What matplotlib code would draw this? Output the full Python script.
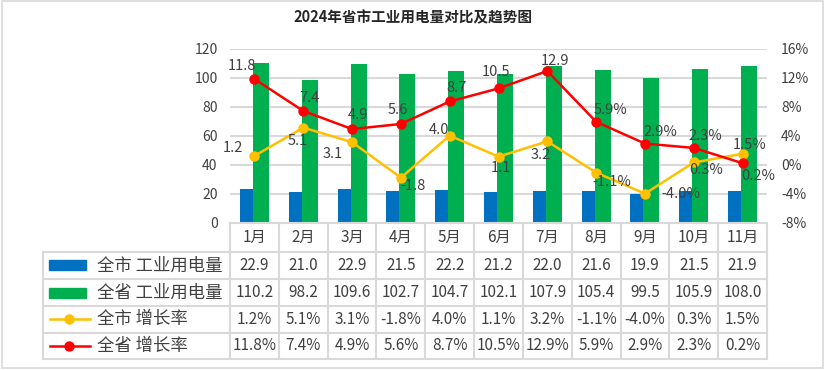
import matplotlib
matplotlib.use("Agg")
import matplotlib.pyplot as plt
from matplotlib.transforms import blended_transform_factory
from matplotlib.lines import Line2D
from matplotlib.patches import Rectangle
import numpy as np

plt.rcParams['font.family'] = ['Noto Sans CJK SC', 'DejaVu Sans']

# ---- data ----
months = ['1月', '2月', '3月', '4月', '5月', '6月', '7月', '8月', '9月', '10月', '11月']
city_power = [22.9, 21.0, 22.9, 21.5, 22.2, 21.2, 22.0, 21.6, 19.9, 21.5, 21.9]
prov_power = [110.2, 98.2, 109.6, 102.7, 104.7, 102.1, 107.9, 105.4, 99.5, 105.9, 108.0]
city_growth = [1.2, 5.1, 3.1, -1.8, 4.0, 1.1, 3.2, -1.1, -4.0, 0.3, 1.5]
prov_growth = [11.8, 7.4, 4.9, 5.6, 8.7, 10.5, 12.9, 5.9, 2.9, 2.3, 0.2]
series_names = ['全市 工业用电量', '全省 工业用电量', '全市 增长率', '全省 增长率']
title = '2024年省市工业用电量对比及趋势图'

# chart-label texts (as shown on the chart: first 7 months without %)
city_lbl = [f'{v:.1f}' if i < 7 else f'{v:.1f}%' for i, v in enumerate(city_growth)]
prov_lbl = [f'{v:.1f}' if i < 7 else f'{v:.1f}%' for i, v in enumerate(prov_growth)]

# ---- style ----
BLUE = '#0070C0'
GREEN = '#00B050'
YELLOW = '#FFC000'
RED = '#FF0000'
TXT = '#404040'
GRID = '#D9D9D9'

W, H = 826, 370
fig = plt.figure(figsize=(W / 100, H / 100), dpi=100)

def fx(px):
    return px / W

def fy(py):
    return 1 - py / H

L, R, T, B = 230, 767, 48.5, 222.7
ax = fig.add_axes([fx(L), fy(B), fx(R) - fx(L), fy(T) - fy(B)])
n = len(months)
x = np.arange(n)
colw = (R - L) / n

# bars
blue_l, split, green_r = -14.5 / colw, -1.5 / colw, 14.5 / colw
ax.bar(x + blue_l, city_power, width=split - blue_l, align='edge', color=BLUE, zorder=2)
ax.bar(x + split, prov_power, width=green_r - split, align='edge', color=GREEN, zorder=2)
ax.set_xlim(-0.5, n - 0.5)
ax.set_ylim(0, 120)
ax.set_yticks(range(0, 121, 20))
ax.grid(axis='y', color=GRID, linewidth=1.5, zorder=0)
ax.set_axisbelow(True)
for s in ax.spines.values():
    s.set_visible(False)
ax.set_xticks([])
ax.tick_params(axis='y', length=0, labelsize=10, labelcolor=TXT, pad=9)

ax2 = ax.twinx()
ax2.set_ylim(-8, 16)
ax2.set_yticks(range(-8, 17, 4))
ax2.set_yticklabels([f'{v}%' for v in range(-8, 17, 4)])
ax2.tick_params(axis='y', length=0, labelsize=10, labelcolor=TXT, pad=10)
for s in ax2.spines.values():
    s.set_visible(False)
ax2.plot(x, city_growth, color=YELLOW, lw=1.8, marker='o', ms=6.5, zorder=3)
ax2.plot(x, prov_growth, color=RED, lw=1.8, marker='o', ms=6.5, zorder=4)

# label offsets in pixels (dx right, dy down)
prov_off = [(-12, -13), (6, -13), (6, -14), (-3, -14), (7, -13), (-3, -16), (8, -10),
            (14, -12), (15, -12), (12, -12), (16, 13)]
city_off = [(-21, -8), (-5, 13), (-19, 12), (12, 8), (-11, -6), (2, 11), (-7, 14),
            (16, 9), (36, 0), (12, 8), (7, -9)]
for i in range(n):
    ax2.annotate(prov_lbl[i], (x[i], prov_growth[i]), xytext=(prov_off[i][0], -prov_off[i][1]),
                 textcoords='offset pixels', ha='center', va='center', fontsize=10.5, color=TXT, zorder=6)
    ax2.annotate(city_lbl[i], (x[i], city_growth[i]), xytext=(city_off[i][0], -city_off[i][1]),
                 textcoords='offset pixels', ha='center', va='center', fontsize=10.5, color=TXT, zorder=6)

# title
fig.text(0.5, fy(17), title, ha='center', va='center', fontsize=10.5, fontweight='bold', color='#262626')

# ---- data table ----
tb = blended_transform_factory(ax.transData, fig.transFigure)
rows_y = [222.7, 251.7, 279.0, 306.0, 332.7, 359.3]
LEG_L = 43

def hline(x0px, x1px, ypx):
    fig.add_artist(Line2D([fx(x0px), fx(x1px)], [fy(ypx), fy(ypx)], color=GRID, lw=1.5))

def vline(xpx, y0px, y1px):
    fig.add_artist(Line2D([fx(xpx), fx(xpx)], [fy(y0px), fy(y1px)], color=GRID, lw=1.5))

hline(L, R, rows_y[0])
for yy in rows_y[1:]:
    hline(LEG_L, R, yy)
for i in range(n + 1):
    vline(L + i * colw, rows_y[0], rows_y[-1])
vline(LEG_L, rows_y[1], rows_y[-1])

for i in range(n):
    cy = (rows_y[0] + rows_y[1]) / 2
    ax.text(x[i], fy(cy), months[i], transform=tb, ha='center', va='center', fontsize=11, color=TXT)

table_rows = [
    [f'{v:.1f}' for v in city_power],
    [f'{v:.1f}' for v in prov_power],
    [f'{v:.1f}%' for v in city_growth],
    [f'{v:.1f}%' for v in prov_growth],
]
for r, vals in enumerate(table_rows):
    cy = (rows_y[r + 1] + rows_y[r + 2]) / 2
    for i in range(n):
        ax.text(x[i], fy(cy), vals[i], transform=tb, ha='center', va='center', fontsize=11, color=TXT)
    fig.text(fx(97), fy(cy), series_names[r], ha='left', va='center', fontsize=12.5, color=TXT)

# legend keys
for r, col in enumerate([BLUE, GREEN]):
    cy = (rows_y[r + 1] + rows_y[r + 2]) / 2
    fig.add_artist(Rectangle((fx(49), fy(cy + 5)), fx(86) - fx(49), fy(cy - 5) - fy(cy + 5),
                             transform=fig.transFigure, color=col))
for r, col in [(2, YELLOW), (3, RED)]:
    cy = (rows_y[r + 1] + rows_y[r + 2]) / 2
    fig.add_artist(Line2D([fx(50), fx(90)], [fy(cy), fy(cy)], color=col, lw=1.8))
    fig.add_artist(Line2D([fx(69)], [fy(cy)], color=col, marker='o', ms=6.5, lw=0))

# outer border
fig.add_artist(Rectangle((fx(1.5), fy(368)), fx(823) - fx(1.5), fy(1.5) - fy(368),
                         transform=fig.transFigure, fill=False, edgecolor=GRID, lw=1.2))

fig.savefig('out.png', dpi=100)
